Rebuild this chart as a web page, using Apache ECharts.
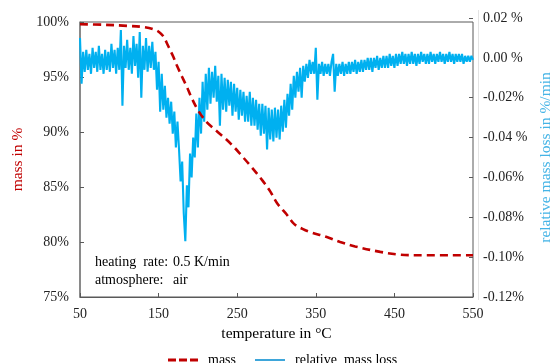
<!DOCTYPE html>
<html>
<head>
<meta charset="utf-8">
<script src="https://cdn.jsdelivr.net/npm/echarts@6/dist/echarts.min.js"></script>
<style>html,body{margin:0;padding:0;background:#fff}#c{width:551px;height:363px}</style>
</head>
<body>
<div id="c"></div>
<script>
// ---- data ----
const massTemps = [50, 80, 110, 130, 145, 152, 157, 161, 165, 169, 173, 180, 186, 192, 200, 210, 222, 235, 245, 255, 266, 282, 292, 301, 313, 323, 333, 343, 364, 381, 400, 432, 457, 480, 550];
const massValues = [99.8, 99.75, 99.65, 99.55, 99.3, 99.0, 98.6, 98.0, 97.4, 96.8, 96.1, 95.0, 94.1, 93.1, 92.0, 91.0, 90.2, 89.4, 88.7, 87.9, 87.0, 85.6, 84.6, 83.5, 82.5, 81.6, 81.2, 80.9, 80.45, 80.0, 79.6, 79.1, 78.85, 78.8, 78.8];

const blueStartTemp = 50;
const blueStepTemp = 2;
const blueValues = [
 0.010,-0.013,0.003,-0.007,0.004,-0.006,0.002,-0.008,0.005,-0.005,
 0.003,-0.007,0.006,-0.006,0.002,-0.008,0.004,-0.006,0.003,-0.007,
 0.007,-0.005,0.004,-0.008,0.005,-0.006,
 0.014,-0.024,0.006,-0.005,0.009,-0.006,0.005,-0.008,0.011,-0.004,
 0.007,-0.010,0.013,-0.020,0.006,-0.006,0.010,-0.007,0.006,-0.005,
 0.008,-0.006,0.003,-0.016,-0.002,-0.027,-0.008,-0.026,-0.014,-0.030,
 -0.020,-0.033,-0.022,-0.038,-0.027,-0.045,-0.032,-0.046,-0.062,-0.052,
 -0.078,-0.092,-0.064,-0.075,-0.048,-0.060,-0.040,-0.050,-0.028,-0.045,
 -0.020,-0.038,-0.012,-0.032,-0.008,-0.026,-0.005,-0.023,-0.007,-0.020,
 -0.004,-0.022,-0.009,-0.034,-0.008,-0.026,-0.010,-0.027,-0.011,-0.024,
 -0.012,-0.029,-0.013,-0.027,-0.015,-0.031,-0.016,-0.029,-0.017,-0.032,
 -0.019,-0.032,-0.017,-0.034,-0.020,-0.034,-0.021,-0.036,-0.023,-0.039,
 -0.023,-0.038,-0.024,-0.046,-0.025,-0.041,-0.026,-0.042,-0.025,-0.040,
 -0.026,-0.041,-0.024,-0.037,-0.021,-0.035,-0.018,-0.029,-0.013,-0.026,
 -0.009,-0.020,-0.007,-0.017,-0.005,-0.020,-0.004,-0.012,-0.003,-0.010,
 -0.001,-0.008,-0.002,-0.008,0.005,-0.021,-0.003,-0.008,-0.002,-0.009,
 -0.003,-0.008,-0.003,-0.009,-0.002,0.002,-0.017,-0.003,-0.009,-0.003,
 -0.008,-0.002,-0.009,-0.003,-0.008,-0.002,-0.008,-0.002,-0.007,-0.001,
 -0.008,-0.002,-0.007,-0.001,-0.007,-0.001,-0.006,0.000,-0.006,0.000,
 -0.007,0.000,-0.005,0.001,-0.006,0.000,-0.005,0.001,-0.005,0.001,
 -0.005,0.002,-0.004,0.001,-0.005,0.002,-0.004,0.002,-0.003,0.003,
 -0.003,0.002,-0.004,0.002,-0.003,0.003,-0.003,0.002,-0.004,0.002,
 -0.003,0.003,-0.002,0.002,-0.003,0.002,-0.003,0.003,-0.002,0.002,
 -0.003,0.002,-0.002,0.003,-0.002,0.002,-0.003,0.002,-0.002,0.003,
 -0.002,0.002,-0.003,0.002,-0.002,0.002,-0.002,0.002,-0.003,0.001,
 -0.002,0.001,-0.002,0.001,-0.001
];

const xTickLabels = ['50', '150', '250', '350', '450', '550'];
const leftTickLabels = ['75%', '80%', '85%', '90%', '95%', '100%'];
const rightTickLabels = ['-0.12%', '-0.10%', '-0.08%', '-0.06%', '-0.04 %', '-0.02%', '0.00 %', '0.02 %'];
const annotation = [['heating  rate:', '0.5 K/min'], ['atmosphere:', 'air']];

// ---- chart ----
const FONT = '"Liberation Serif", "Times New Roman", serif';
const AX = '#595959';
const massData = massTemps.map((t, i) => [t, massValues[i]]);
const blueData = blueValues.map((v, i) => [blueStartTemp + blueStepTemp * i, v]);

const chart = echarts.init(document.getElementById('c'), null, {renderer: 'canvas'});
const graphics = [];
annotation.forEach((row, r) => {
  graphics.push({type: 'text', x: 95, y: 255 + r * 18, style: {text: row[0], font: '14px ' + FONT, fill: '#000'}});
  graphics.push({type: 'text', x: 173, y: 255 + r * 18, style: {text: row[1], font: '14px ' + FONT, fill: '#000'}});
});
graphics.push({type: 'line', shape: {x1: 478.5, y1: 10, x2: 478.5, y2: 300}, style: {stroke: '#e3e3e3', lineWidth: 1}});

chart.setOption({
  animation: false,
  backgroundColor: '#fff',
  textStyle: {fontFamily: FONT},
  grid: [
    {left: 80, right: 78, top: 22, bottom: 66, show: true, borderColor: AX, borderWidth: 1,
     backgroundColor: 'transparent', containLabel: false, outerBoundsMode: 'none'},
    {left: 80, right: 78, top: 18, bottom: 66, show: false, containLabel: false, outerBoundsMode: 'none'}
  ],
  xAxis: [
    {type: 'value', gridIndex: 0, min: 50, max: 550, interval: 100,
     name: 'temperature in °C', nameLocation: 'middle', nameGap: 27,
     nameTextStyle: {fontFamily: FONT, fontSize: 15.5, color: '#000'},
     axisLine: {show: true, lineStyle: {color: AX}},
     axisTick: {show: true, inside: true, length: 4, lineStyle: {color: AX}},
     axisLabel: {fontFamily: FONT, fontSize: 14, color: '#222', margin: 10,
       formatter: v => xTickLabels[Math.round((v - 50) / 100)] || ''},
     splitLine: {show: false}},
    {type: 'value', gridIndex: 1, min: 50, max: 550, show: false}
  ],
  yAxis: [
    {type: 'value', gridIndex: 0, position: 'left', min: 75, max: 100, interval: 5,
     name: 'mass in %', nameLocation: 'middle', nameGap: 52, nameRotate: 90,
     nameTextStyle: {fontFamily: FONT, fontSize: 15.5, color: '#c00000'},
     axisLine: {show: true, lineStyle: {color: '#7f7f7f', width: 1.5}},
     axisTick: {show: true, inside: true, length: 4, lineStyle: {color: AX}},
     axisLabel: {fontFamily: FONT, fontSize: 14, color: '#222', margin: 11,
       formatter: v => leftTickLabels[Math.round((v - 75) / 5)] || ''},
     splitLine: {show: false}},
    {type: 'value', gridIndex: 1, position: 'right', min: -0.12, max: 0.02, interval: 0.02,
     name: 'relative mass loss in %/min', nameLocation: 'middle', nameGap: 61, nameRotate: 90,
     nameTextStyle: {fontFamily: FONT, fontSize: 15.5, color: '#45b4e6'},
     axisLine: {show: false},
     axisTick: {show: true, inside: true, length: 4, lineStyle: {color: AX}},
     axisLabel: {fontFamily: FONT, fontSize: 14, color: '#222', margin: 10,
       formatter: v => rightTickLabels[Math.round((v + 0.12) / 0.02)] || ''},
     splitLine: {show: false}},
  ],
  legend: {
    left: 163, top: 348, itemWidth: 30, itemHeight: 3, itemGap: 19, orient: 'horizontal',
    textStyle: {fontFamily: FONT, fontSize: 14, color: '#000', padding: [0, 0, 0, 5]},
    data: [
      {name: 'mass', icon: 'path://M0,0H8V3H0Z M11,0H19V3H11Z M22,0H30V3H22Z', itemStyle: {color: '#c00000'}},
      {name: 'relative  mass loss', icon: 'path://M0,0H30V2H0Z', itemStyle: {color: '#3ea6da'}}
    ]
  },
  series: [
    {name: 'relative  mass loss', type: 'line', xAxisIndex: 1, yAxisIndex: 1, data: blueData,
     showSymbol: false, symbol: 'none', z: 2,
     lineStyle: {color: '#00b0f0', width: 2.1}, itemStyle: {color: '#00b0f0'}},
    {name: 'mass', type: 'line', xAxisIndex: 0, yAxisIndex: 0, data: massData,
     showSymbol: false, symbol: 'none', smooth: 0.35, z: 3,
     lineStyle: {color: '#c00000', width: 2.6, type: [8, 5]}, itemStyle: {color: '#c00000'}}
  ],
  graphic: graphics
});
</script>
</body>
</html>
